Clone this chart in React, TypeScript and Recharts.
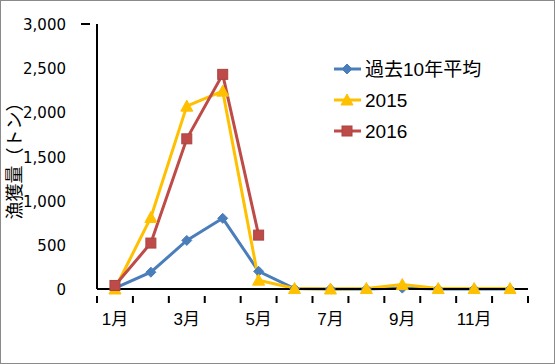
import React from 'react';
import { LineChart, Line, XAxis, YAxis, Legend } from 'recharts';

// 月別漁獲量 (トン)
const months = ['1月', '2月', '3月', '4月', '5月', '6月', '7月', '8月', '9月', '10月', '11月', '12月'];
const avg10 = [10, 190, 550, 800, 200, 5, 0, 0, 10, 0, 0, 0];
const y2015 = [0, 810, 2070, 2240, 100, 5, 0, 5, 50, 5, 5, 5];
const y2016 = [40, 520, 1700, 2430, 610, null, null, null, null, null, null, null];
const yTicks = [0, 500, 1000, 1500, 2000, 2500, 3000];

const data = months.map((m, i) => ({
  x: i + 1,
  month: m,
  avg: avg10[i],
  y2015: y2015[i],
  y2016: y2016[i],
}));

// tick marks sit between categories, labels on every other month
const xTicks = [0.5, 1, 1.5, 2.5, 3, 3.5, 4.5, 5, 5.5, 6.5, 7, 7.5, 8.5, 9, 9.5, 10.5, 11, 11.5, 12.5];

const BLUE = '#4A7EBB';
const YELLOW = '#FFC000';
const RED = '#BE4B48';
const NUM_FONT = '"DejaVu Sans", "Noto Sans CJK JP", sans-serif';
const TXT_FONT = '"Liberation Sans", "Noto Sans CJK JP", sans-serif';

const XTick = (props: any) => {
  const { x, y, payload } = props;
  const v = payload.value;
  if (v % 1 !== 0) {
    return <line x1={x} y1={y - 1} x2={x} y2={y + 6} stroke="#000" strokeWidth={2} />;
  }
  if (v % 2 === 0) return null;
  return (
    <text x={x} y={y + 28} textAnchor="middle" fontSize={17} fontFamily={TXT_FONT} fill="#000">
      {months[v - 1]}
    </text>
  );
};

const YTick = (props: any) => {
  const { x, y, payload } = props;
  return (
    <g>
      {payload.value === 3000 && <line x1={x - 8} y1={y} x2={x + 1} y2={y} stroke="#000" strokeWidth={2} />}
      <text x={x - 23} y={y + 6} textAnchor="end" fontSize={15} fontFamily={NUM_FONT} fill="#000">
        {payload.value.toLocaleString('en-US')}
      </text>
    </g>
  );
};

const Diamond = (props: any) => {
  const { cx, cy } = props;
  if (cx == null || cy == null) return null;
  return <path d={`M${cx},${cy - 5} L${cx + 5},${cy} L${cx},${cy + 5} L${cx - 5},${cy} Z`} fill={BLUE} stroke={BLUE} />;
};

const Triangle = (props: any) => {
  const { cx, cy } = props;
  if (cx == null || cy == null) return null;
  return <path d={`M${cx},${cy - 6} L${cx + 6},${cy + 5} L${cx - 6},${cy + 5} Z`} fill={YELLOW} stroke={YELLOW} />;
};

const Square = (props: any) => {
  const { cx, cy } = props;
  if (cx == null || cy == null) return null;
  return <rect x={cx - 5} y={cy - 5} width={10} height={10} fill={RED} stroke="#A94542" />;
};

const seriesOrder = ['avg', 'y2015', 'y2016'];
const markers: Record<string, any> = { avg: Diamond, y2015: Triangle, y2016: Square };

const LegendContent = (props: any) => {
  const payload = props.payload || [];
  const items = seriesOrder.map((k) => payload.find((p: any) => p.dataKey === k)).filter(Boolean);
  return (
    <svg width={210} height={100} style={{ display: 'block' }}>
      {items.map((it: any, i: number) => {
        const cy = 9 + i * 31;
        const M = markers[it.dataKey];
        return (
          <g key={it.value}>
            <line x1={1} y1={cy} x2={28} y2={cy} stroke={it.color} strokeWidth={3} />
            <M cx={14} cy={cy} />
            <text x={32} y={cy + 7} fontSize={19} fontFamily={TXT_FONT} fill="#000">{it.value}</text>
          </g>
        );
      })}
    </svg>
  );
};

export default function App() {
  return (
    <div
      style={{
        position: 'absolute',
        left: 0,
        top: 0,
        width: 553,
        height: 362,
        border: '1px solid #8a8a8a',
        background: '#fff',
      }}
    >
      <LineChart width={553} height={362} data={data} margin={{ top: 23, right: 26, bottom: 44, left: 0 }}>
        <XAxis
          dataKey="x"
          type="number"
          domain={[0.5, 12.5]}
          ticks={xTicks}
          interval={0}
          tick={<XTick />}
          tickLine={false}
          axisLine={{ stroke: '#000', strokeWidth: 2 }}
          height={30}
        />
        <YAxis
          type="number"
          domain={[0, 3000]}
          ticks={yTicks}
          interval={0}
          tick={<YTick />}
          tickLine={false}
          axisLine={{ stroke: '#000', strokeWidth: 2 }}
          width={96}
          label={{
            value: '漁獲量（トン）',
            angle: -90,
            position: 'insideLeft',
            offset: 0,
            dx: 14,
            dy: 0,
            style: { fontSize: 18, fontFamily: '"Noto Sans CJK JP", sans-serif', fill: '#000', textAnchor: 'middle' },
          }}
        />
        <Legend
          content={<LegendContent />}
          layout="vertical"
          verticalAlign="middle"
          align="center"
          wrapperStyle={{ left: 332, top: 59, width: 210, height: 100 }}
        />
        <Line dataKey="avg" name="過去10年平均" stroke={BLUE} strokeWidth={3} dot={<Diamond />} isAnimationActive={false} />
        <Line dataKey="y2015" name="2015" stroke={YELLOW} strokeWidth={3} dot={<Triangle />} isAnimationActive={false} />
        <Line dataKey="y2016" name="2016" stroke={RED} strokeWidth={3} dot={<Square />} isAnimationActive={false} />
      </LineChart>
    </div>
  );
}
